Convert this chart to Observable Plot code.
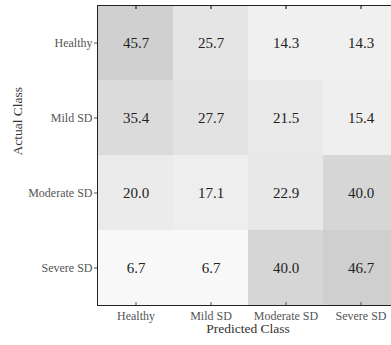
<!DOCTYPE html>
<html>
<head>
<meta charset="utf-8">
<script src="https://cdn.jsdelivr.net/npm/d3@7"></script>
<script src="https://cdn.jsdelivr.net/npm/@observablehq/plot@0.6"></script>
<style>
  body { margin: 0; background: #fff; }
</style>
</head>
<body>
<div id="chart"></div>
<script>
// Confusion matrix (percent of each actual class), rows = actual, columns = predicted
const predictedClasses = ["Healthy", "Mild SD", "Moderate SD", "Severe SD"];
const actualClasses = ["Healthy", "Mild SD", "Moderate SD", "Severe SD"];
const healthyRow = [45.7, 25.7, 14.3, 14.3];
const mildRow = [35.4, 27.7, 21.5, 15.4];
const moderateRow = [20.0, 17.1, 22.9, 40.0];
const severeRow = [6.7, 6.7, 40.0, 46.7];

const rows = [healthyRow, mildRow, moderateRow, severeRow];
const cells = actualClasses.flatMap((a, i) =>
  predictedClasses.map((p, j) => ({actual: a, predicted: p, value: rows[i][j]}))
);

const serif = "'Liberation Serif', 'Times New Roman', serif";

const chart = Plot.plot({
  width: 391,
  height: 345,
  marginLeft: 97,
  marginTop: 5,
  marginBottom: 40,
  marginRight: -7,
  style: {fontFamily: serif, background: "#fff", overflow: "hidden"},
  x: {domain: predictedClasses, padding: 0, label: null},
  y: {domain: actualClasses, padding: 0, label: null},
  color: {type: "linear", domain: [0, 50], range: ["#ffffff", "#cccccc"]},
  marks: [
    Plot.cell(cells, {x: "predicted", y: "actual", fill: "value"}),
    Plot.text(cells, {
      x: "predicted", y: "actual",
      text: d => d.value.toFixed(1),
      fontSize: 15, fill: "#222"
    }),
    // open frame: top, left and bottom edges only
    Plot.frame({anchor: "top", stroke: "#222"}),
    Plot.frame({anchor: "left", stroke: "#222"}),
    Plot.frame({anchor: "bottom", stroke: "#222"}),
    Plot.axisX({anchor: "bottom", tickSize: -3, tickPadding: 9, fontSize: 12, color: "#555", label: null}),
    Plot.axisX({anchor: "top", tickSize: -3, tickFormat: () => "", label: null}),
    Plot.axisY({anchor: "left", tickSize: 3, tickPadding: 2, fontSize: 12, color: "#555", label: null}),
    Plot.text(["Predicted Class"], {frameAnchor: "bottom", dy: 27.5, fontSize: 13.5, fill: "#333"}),
    Plot.text(["Actual Class"], {frameAnchor: "left", dx: -80, rotate: -90, fontSize: 13.5, fill: "#333"})
  ]
});

document.getElementById("chart").append(chart);
</script>
</body>
</html>
